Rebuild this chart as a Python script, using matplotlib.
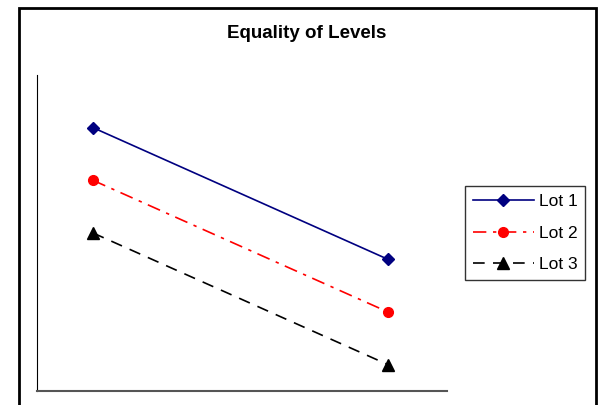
import matplotlib
matplotlib.use("Agg")
import matplotlib.pyplot as plt
from matplotlib.patches import Rectangle

# Dados
levels = [1, 2]
lot1 = [5.0, 2.5]
lot2 = [4.0, 1.5]
lot3 = [3.0, 0.5]
labels = ["Lot 1", "Lot 2", "Lot 3"]

fig = plt.figure(figsize=(5.98, 4.05), dpi=100)
ax = fig.add_axes([37/598, 14/405, 410/598, 316/405])

ax.plot(levels, lot1, '-', color='#000080', marker='D', markersize=6, linewidth=1.2, label=labels[0])
ax.plot(levels, lot2, color='red', linestyle=(0, (8, 4, 2, 4)), marker='o', markersize=7, linewidth=1.2, label=labels[1])
ax.plot(levels, lot3, color='black', linestyle=(0, (7, 5)), marker='^', markersize=8, linewidth=1.2, label=labels[2])

ax.set_xlim(0.81, 2.2)
ax.set_ylim(0, 6)
ax.set_xticks([])
ax.set_yticks([])
ax.spines['top'].set_visible(False)
ax.spines['right'].set_visible(False)
ax.spines['left'].set_color('black')
ax.spines['bottom'].set_color('#555555')
ax.spines['bottom'].set_linewidth(1.5)

fig.text(307/598, 1 - 33/405, "Equality of Levels", ha='center', va='center',
         fontsize=13.5, fontweight='bold', family='Liberation Sans')

leg = fig.legend(loc='upper left', bbox_to_anchor=(465/598, 1 - 186/405),
                 frameon=True, fancybox=False, prop={'family': 'Liberation Sans', 'size': 12.5},
                 handlelength=3.5, borderpad=0.45, labelspacing=0.95, handletextpad=0.3,
                 borderaxespad=0)
leg.get_frame().set_edgecolor('black')
leg.get_frame().set_linewidth(1.0)

fig.patches.append(Rectangle((19/598, -0.1), 577/598, 1.1 - 8/405, transform=fig.transFigure,
                             fill=False, edgecolor='black', linewidth=2))

fig.savefig("out.png", dpi=100)
